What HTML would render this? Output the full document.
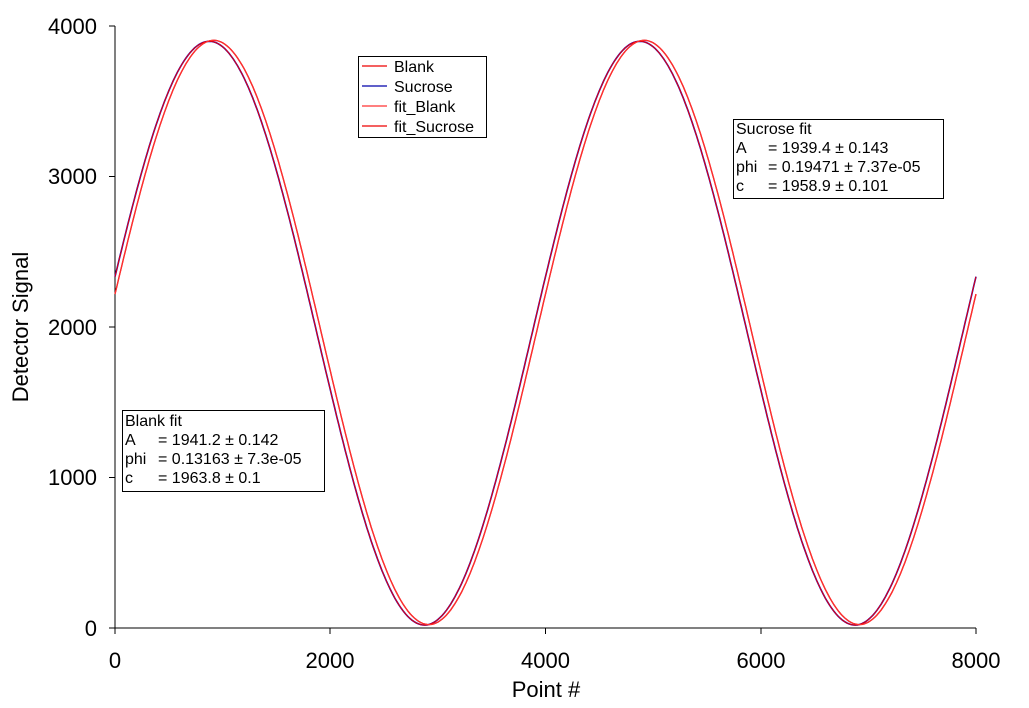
<!DOCTYPE html>
<html><head><meta charset="utf-8"><style>
body{margin:0;background:#fff;width:1029px;height:703px;overflow:hidden}
svg text{font-family:"Liberation Sans",sans-serif}
</style></head><body>
<svg id="s" width="1029" height="703" xmlns="http://www.w3.org/2000/svg">
<g stroke="#000" stroke-width="1" fill="none">
<line x1="115" y1="26" x2="115" y2="634"/>
<line x1="109" y1="628" x2="976" y2="628"/>
<line x1="109" y1="26" x2="115" y2="26"/><line x1="109" y1="176.5" x2="115" y2="176.5"/><line x1="109" y1="327" x2="115" y2="327"/><line x1="109" y1="477.5" x2="115" y2="477.5"/>
<line x1="330" y1="628" x2="330" y2="634"/><line x1="545.5" y1="628" x2="545.5" y2="634"/><line x1="761" y1="628" x2="761" y2="634"/><line x1="976" y1="628" x2="976" y2="634"/>
</g>
<g font-size="22" text-anchor="end">
<text x="97" y="34">4000</text><text x="97" y="184">3000</text><text x="97" y="335">2000</text><text x="97" y="485">1000</text><text x="97" y="636">0</text>
</g>
<g font-size="22" text-anchor="middle">
<text x="115" y="668">0</text><text x="330" y="668">2000</text><text x="545.5" y="668">4000</text><text x="761" y="668">6000</text><text x="976" y="668">8000</text>
<text x="546" y="697">Point #</text>
<text transform="translate(28,327) rotate(-90)">Detector Signal</text>
</g>
<g id="curves" fill="none" stroke-width="1.2"></g>
<rect x="358.5" y="56.5" width="128" height="81" fill="#fff" stroke="#000"/>
<g stroke-width="1.2"><line x1="362" y1="66" x2="387" y2="66" stroke="#e00"/><line x1="362" y1="86" x2="387" y2="86" stroke="#00a"/><line x1="362" y1="106" x2="387" y2="106" stroke="#f33"/><line x1="362" y1="126" x2="387" y2="126" stroke="#e00"/></g>
<g font-size="16"><text x="394" y="72">Blank</text><text x="394" y="92">Sucrose</text><text x="394" y="112">fit_Blank</text><text x="394" y="132">fit_Sucrose</text></g>
<rect x="733.5" y="119.5" width="210" height="79" fill="#fff" stroke="#000"/>
<g font-size="16"><text x="736" y="134">Sucrose fit</text><text x="736" y="153">A</text><text x="768" y="153">= 1939.4 ± 0.143</text><text x="736" y="172">phi</text><text x="768" y="172">= 0.19471 ± 7.37e-05</text><text x="736" y="191">c</text><text x="768" y="191">= 1958.9 ± 0.101</text></g>
<rect x="122.5" y="410.5" width="202" height="81" fill="#fff" stroke="#000"/>
<g font-size="16"><text x="125" y="426">Blank fit</text><text x="125" y="445">A</text><text x="158" y="445">= 1941.2 ± 0.142</text><text x="125" y="464">phi</text><text x="158" y="464">= 0.13163 ± 7.3e-05</text><text x="125" y="483">c</text><text x="158" y="483">= 1963.8 ± 0.1</text></g>
</svg>
<script>
function path(A,phi,c,col,w){var d="";for(var i=0;i<=8000;i+=20){var v=c+A*Math.sin(2*Math.PI*i/4000+phi);var x=115+i*861/8000,y=628-v*0.1505;d+=(i?"L":"M")+x.toFixed(1)+" "+y.toFixed(1);}
var p=document.createElementNS("http://www.w3.org/2000/svg","path");p.setAttribute("d",d);p.setAttribute("stroke",col);p.setAttribute("stroke-width",w);p.setAttribute("fill","none");document.getElementById("curves").insertBefore(p,null);}
path(1939.4,0.19471,1958.9,"#00c",1.6);
path(1941.2,0.13163,1963.8,"#e00",1.4);
path(1939.4,0.19471,1958.9,"#e00",1);
path(1941.2,0.13163,1963.8,"#f33",1);
</script>
</body></html>
